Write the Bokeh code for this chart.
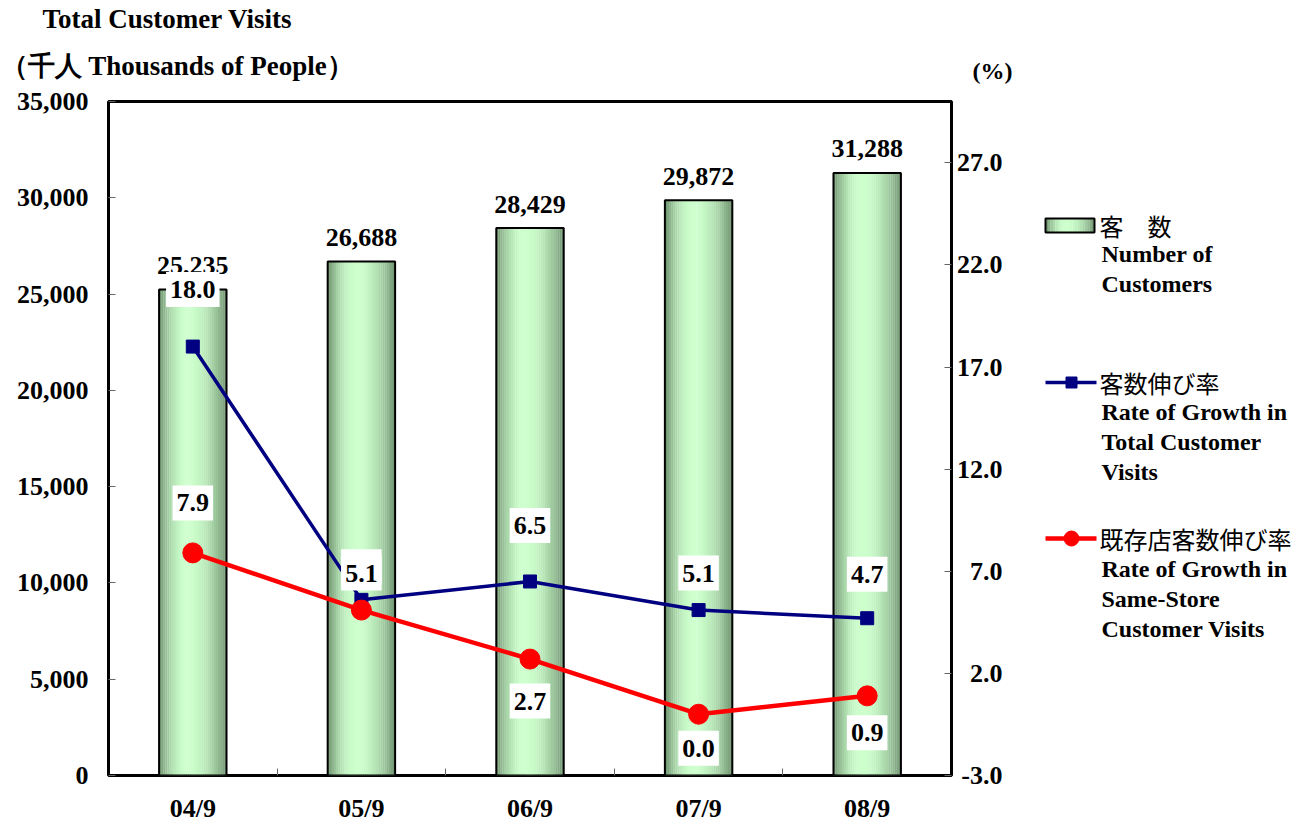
import numpy as np
from bokeh.plotting import figure
from bokeh.models import (Range1d, LinearAxis, FixedTicker, Title,
                          NumeralTickFormatter, ColumnDataSource)
from bokeh.layouts import row
from bokeh.embed import file_html
from bokeh.resources import INLINE
from bokeh.core.properties import value

# ---------------- data ----------------
categories = ["04/9", "05/9", "06/9", "07/9", "08/9"]
customers = [25235, 26688, 28429, 29872, 31288]          # thousands of people
growth_total = [18.0, 5.6, 6.5, 5.1, 4.7]                # % growth, total visits
growth_same = [7.9, 5.1, 2.7, 0.0, 0.9]                  # % growth, same-store
left_ticks = [0, 5000, 10000, 15000, 20000, 25000, 30000, 35000]
right_ticks = [-3.0, 2.0, 7.0, 12.0, 17.0, 22.0, 27.0]

# label placement (screen px offsets, negative = upward)
total_label_offsets = [-57, -33, -56, -37, -44]
same_label_offsets = [-50, -37, 42, 34, 37]

SERIF = "Liberation Serif"
CJK = "Noto Sans CJK JP"
FS = "24px"
NUM_FS = "26px"
TITLE_FS = "27px"

xs = [i + 0.5 for i in range(len(categories))]
BAR_W = 0.40

DARK = np.array([84, 114, 84])
LIGHT = np.array([204, 255, 204])


def grad_color(t):
    peak = 0.42
    scale = 0.47 if t < peak else 0.66
    f = 1.0 - ((t - peak) / scale) ** 2
    f = max(0.0, min(1.0, f))
    c = DARK + (LIGHT - DARK) * f
    return "#%02x%02x%02x" % tuple(int(round(v)) for v in c)


FRAME_L, FRAME_T, FRAME_W, FRAME_H, BOT = 108, 101, 843, 674, 50
MAIN_R = 2

# ---------------- main figure ----------------
p = figure(frame_width=FRAME_W, frame_height=FRAME_H,
           min_border_left=FRAME_L, min_border_right=MAIN_R,
           min_border_top=FRAME_T, min_border_bottom=BOT,
           x_range=Range1d(0, 5), y_range=Range1d(0, 35000),
           output_backend="svg", toolbar_location=None, tools="")
p.outline_line_color = "black"
p.outline_line_width = 3
p.xgrid.visible = False
p.ygrid.visible = False
p.background_fill_color = "white"
p.border_fill_color = "white"

# titles: the last one added sits nearest the frame
p.title = Title(text="Total Customer Visits", align="left", offset=-66,
                standoff=-12, text_font=SERIF, text_font_style="bold",
                text_font_size=TITLE_FS, text_color="black")
p.add_layout(Title(text="（千人 Thousands of People）", align="left", offset=-108,
                   standoff=42, text_font=SERIF, text_font_style="bold",
                   text_font_size=TITLE_FS, text_color="black"), "above")

p.extra_y_ranges = {"pct": Range1d(-3, 30)}

# left axis
ya = p.yaxis[0]
ya.ticker = FixedTicker(ticks=left_ticks)
ya.formatter = NumeralTickFormatter(format="0,0")
ya.major_tick_in = 7
ya.major_tick_out = 0
ya.major_tick_line_color = "#666666"
ya.minor_tick_line_color = None
ya.axis_line_color = None
ya.major_label_standoff = 20
ya.major_label_text_font = SERIF
ya.major_label_text_font_style = "bold"
ya.major_label_text_font_size = NUM_FS
ya.major_label_text_color = "black"

# right-hand tick marks on the frame (labels come from the % axis beside it)
ra = LinearAxis(y_range_name="pct",
                ticker=FixedTicker(ticks=[], minor_ticks=right_ticks))
ra.major_tick_line_color = None
ra.major_tick_in = 0
ra.major_tick_out = 0
ra.minor_tick_in = 7
ra.minor_tick_out = 0
ra.minor_tick_line_color = "#666666"
ra.axis_line_color = None
ra.major_label_standoff = 0
p.add_layout(ra, "right")

# bottom axis
xa = p.xaxis[0]
xa.ticker = FixedTicker(ticks=xs, minor_ticks=[1, 2, 3, 4])
xa.major_label_overrides = {x: c for x, c in zip(xs, categories)}
xa.major_tick_line_color = None
xa.major_tick_out = 0
xa.major_tick_in = 0
xa.minor_tick_in = 7
xa.minor_tick_out = 0
xa.minor_tick_line_color = "#666666"
xa.axis_line_color = None
xa.major_label_standoff = 18
xa.major_label_text_font = SERIF
xa.major_label_text_font_style = "bold"
xa.major_label_text_font_size = NUM_FS
xa.major_label_text_color = "black"

# bars with horizontal gradient (strips)
N = 32
sx, stop, scol = [], [], []
for k in range(N):
    t = (k + 0.5) / N
    col = grad_color(t)
    for x, v in zip(xs, customers):
        sx.append(x - BAR_W / 2 + t * BAR_W)
        stop.append(v)
        scol.append(col)
strip_src = ColumnDataSource(dict(x=sx, top=stop, color=scol))
p.vbar(x="x", top="top", width=BAR_W / N * 1.08, fill_color="color",
       line_color=None, source=strip_src)
p.vbar(x=xs, top=customers, width=BAR_W, fill_color=None,
       line_color="black", line_width=2)

# bar value labels
p.text(x=xs, y=customers, text=[f"{v:,}" for v in customers],
       text_align="center", text_baseline="middle", y_offset=-24,
       text_font=value(SERIF), text_font_style="bold", text_font_size=NUM_FS,
       text_color="black")

# lines
p.line(xs, growth_total, y_range_name="pct", line_color="#000080", line_width=3.5)
p.scatter(xs, growth_total, y_range_name="pct", marker="square", size=13,
          fill_color="#000080", line_color="#000080")
p.line(xs, growth_same, y_range_name="pct", line_color="#ff0000", line_width=4.5)
p.scatter(xs, growth_same, y_range_name="pct", marker="circle", size=20,
          fill_color="#ff0000", line_color="#ff0000")

pad = dict(left=4, right=4, top=9, bottom=9)
p.text(x=xs, y=growth_total, text=[f"{v:.1f}" for v in growth_total],
       y_range_name="pct", y_offset=total_label_offsets,
       text_align="center", text_baseline="middle",
       text_font=value(SERIF), text_font_style="bold", text_font_size=NUM_FS,
       text_color="black", background_fill_color="white", padding=pad)
p.text(x=xs, y=growth_same, text=[f"{v:.1f}" for v in growth_same],
       y_range_name="pct", y_offset=same_label_offsets,
       text_align="center", text_baseline="middle",
       text_font=value(SERIF), text_font_style="bold", text_font_size=NUM_FS,
       text_color="black", background_fill_color="white", padding=pad)

# ---------------- right panel: % axis labels + legend ----------------
LEG_STANDOFF = 16
LAB_W = 50            # measured width of the widest % tick label panel
MAIN_W = FRAME_L + FRAME_W + MAIN_R
LEG_FRAME_L = MAIN_W + LEG_STANDOFF + LAB_W
LEG_FW = 1298 - LEG_FRAME_L

leg = figure(frame_width=LEG_FW, frame_height=FRAME_H,
             min_border_left=10, min_border_right=0,
             min_border_top=FRAME_T, min_border_bottom=BOT,
             x_range=Range1d(LEG_FRAME_L, LEG_FRAME_L + LEG_FW),
             y_range=Range1d(-3, 30),
             output_backend="svg", toolbar_location=None, tools="",
             x_axis_location=None, y_axis_location="left")
leg.xgrid.visible = False
leg.ygrid.visible = False
leg.outline_line_color = None
leg.background_fill_color = "white"
leg.border_fill_color = "white"
leg.extra_y_ranges = {"px": Range1d(FRAME_T + FRAME_H, FRAME_T)}

la = leg.yaxis[0]
la.ticker = FixedTicker(ticks=right_ticks)
la.formatter = NumeralTickFormatter(format="0.0")
la.major_tick_line_color = None
la.major_tick_in = 0
la.major_tick_out = 0
la.minor_tick_line_color = None
la.minor_tick_in = 0
la.minor_tick_out = 0
la.axis_line_color = None
la.major_label_standoff = LEG_STANDOFF
la.major_label_text_font = SERIF
la.major_label_text_font_style = "bold"
la.major_label_text_font_size = NUM_FS
la.major_label_text_color = "black"

leg.title = Title(text="(%)", align="left", offset=973 - LEG_FRAME_L,
                  standoff=36, text_font=SERIF, text_font_style="bold",
                  text_font_size=FS, text_color="black")

# swatch for bars
SW_L, SW_R, SW_T, SW_B = 1046, 1095, 218, 232
M = 20
ql, qr, qc = [], [], []
for k in range(M):
    t = (k + 0.5) / M
    ql.append(SW_L + k * (SW_R - SW_L) / M)
    qr.append(SW_L + (k + 1.05) * (SW_R - SW_L) / M)
    qc.append(grad_color(t))
leg.quad(left=ql, right=qr, top=[SW_T] * M, bottom=[SW_B] * M,
         fill_color=qc, line_color=None, y_range_name="px")
leg.quad(left=[SW_L], right=[SW_R], top=[SW_T], bottom=[SW_B],
         fill_color=None, line_color="black", line_width=2, y_range_name="px")

leg.line([1046, 1097], [382, 382], line_color="#000080", line_width=3.5,
         y_range_name="px")
leg.scatter([1072], [382], marker="square", size=11, fill_color="#000080",
            line_color="#000080", y_range_name="px")
leg.line([1046, 1097], [538, 538], line_color="#ff0000", line_width=4.5,
         y_range_name="px")
leg.scatter([1072], [538], marker="circle", size=15, fill_color="#ff0000",
            line_color="#ff0000", y_range_name="px")

cjk_txt = ["客　数", "客数伸び率", "既存店客数伸び率"]
cjk_y = [225, 382, 538]
leg.text(x=[1100] * 3, y=cjk_y, text=cjk_txt, text_baseline="middle",
         text_font=value(CJK), text_font_size=FS, text_color="black",
         y_range_name="px")

en_txt = ["Number of", "Customers",
          "Rate of Growth in", "Total Customer", "Visits",
          "Rate of Growth in", "Same-Store", "Customer Visits"]
en_y = [253, 283, 411, 441, 471, 568, 598, 628]
leg.text(x=[1102] * len(en_txt), y=en_y, text=en_txt, text_baseline="middle",
         text_font=value(SERIF), text_font_style="bold", text_font_size=FS,
         text_color="black", y_range_name="px")

layout = row(p, leg)
open("out.html", "w").write(file_html(layout, INLINE, "chart"))
